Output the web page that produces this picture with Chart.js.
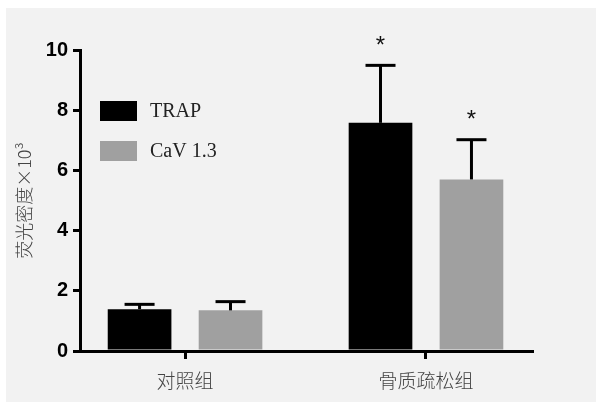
<!DOCTYPE html>
<html>
<head>
<meta charset="utf-8">
<script src="https://cdn.jsdelivr.net/npm/chart.js@4"></script>
<style>
html,body{margin:0;padding:0;background:#fff;}
#wrap{width:596px;height:402px;position:relative;}
</style>
</head>
<body>
<div id="wrap"><canvas id="c" width="596" height="402"></canvas></div>
<script>
const categories = ['对照组', '骨质疏松组'];
const seriesNames = ['TRAP', 'CaV 1.3'];
const trapValues = [1.39, 7.58];
const trapErrors = [0.16, 1.91];
const cavValues = [1.35, 5.70];
const cavErrors = [0.29, 1.32];
const trapSignif = ['', '*'];
const cavSignif = ['', '*'];
const yTicks = [0, 2, 4, 6, 8, 10];
const yTitle = '荧光密度×10³';

const panelPlugin = {
  id: 'panel',
  beforeDraw(chart) {
    const ctx = chart.ctx;
    ctx.save();
    ctx.fillStyle = '#ffffff';
    ctx.fillRect(0, 0, chart.width, chart.height);
    ctx.fillStyle = '#f2f2f2';
    ctx.fillRect(6, 8, chart.width - 6, chart.height - 8);
    ctx.restore();
  }
};

const errorPlugin = {
  id: 'errs',
  afterDatasetsDraw(chart) {
    const ctx = chart.ctx;
    const y = chart.scales.y;
    ctx.save();
    chart.data.datasets.forEach((ds, di) => {
      const meta = chart.getDatasetMeta(di);
      meta.data.forEach((bar, i) => {
        const v = ds.data[i].y;
        const e = ds.errors[i];
        const x = bar.x;
        const yTop = y.getPixelForValue(v + e);
        const yBar = y.getPixelForValue(v);
        ctx.strokeStyle = '#000';
        ctx.lineWidth = 3;
        ctx.beginPath();
        ctx.moveTo(x, yBar);
        ctx.lineTo(x, yTop);
        ctx.stroke();
        ctx.beginPath();
        ctx.moveTo(x - 15, yTop);
        ctx.lineTo(x + 15, yTop);
        ctx.stroke();
        const s = ds.signif[i];
        if (s) {
          ctx.fillStyle = '#111';
          ctx.font = '24px "Liberation Sans", Arial, sans-serif';
          ctx.textAlign = 'center';
          ctx.textBaseline = 'middle';
          ctx.fillText(s, x, yTop - 19);
        }
      });
    });
    ctx.restore();
  }
};

const legendPlugin = {
  id: 'customLegend',
  afterDraw(chart) {
    const ctx = chart.ctx;
    ctx.save();
    chart.data.datasets.forEach((ds, i) => {
      const top = 101 + i * 40;
      ctx.fillStyle = ds.backgroundColor;
      ctx.fillRect(100, top, 37, 20);
      ctx.fillStyle = '#222';
      ctx.font = '20px "Liberation Serif", "Times New Roman", serif';
      ctx.textAlign = 'left';
      ctx.textBaseline = 'middle';
      ctx.fillText(ds.label, 150, top + 11);
    });
    ctx.restore();
  }
};

const datasets = [
  { label: seriesNames[0], data: categories.map((c, i) => ({x: i, y: trapValues[i]})), errors: trapErrors, signif: trapSignif, backgroundColor: '#000000' },
  { label: seriesNames[1], data: categories.map((c, i) => ({x: i, y: cavValues[i]})), errors: cavErrors, signif: cavSignif, backgroundColor: '#a0a0a0' }
];

new Chart(document.getElementById('c'), {
  type: 'bar',
  data: { datasets },
  plugins: [panelPlugin, errorPlugin, legendPlugin],
  options: {
    responsive: false,
    animation: false,
    devicePixelRatio: 1,
    categoryPercentage: 0.755,
    barPercentage: 0.70,
    layout: { padding: { left: 6, top: 50, right: 64, bottom: 0 } },
    plugins: { legend: { display: false }, tooltip: { enabled: false } },
    scales: {
      x: {
        type: 'linear',
        offset: false,
        min: -0.436,
        max: 1.44,
        afterBuildTicks(scale) { scale.ticks = categories.map((c, i) => ({ value: i })); },
        afterFit(scale) { scale.height = 51; },
        ticks: {
          callback: (v) => categories[v] !== undefined ? categories[v] : '',
          color: '#444',
          font: { family: '"Noto Sans CJK SC", sans-serif', size: 19, weight: 300 },
          padding: 10,
          maxRotation: 0,
          autoSkip: false
        },
        grid: { offset: false, drawOnChartArea: false, drawTicks: true, tickLength: 8, color: '#000', lineWidth: 3 },
        border: { display: true, color: '#000', width: 3 }
      },
      y: {
        min: 0,
        max: 10,
        afterBuildTicks(scale) { scale.ticks = yTicks.map(v => ({ value: v })); },
        afterFit(scale) { scale.width = 74; },
        ticks: {
          color: '#000',
          font: { family: '"Liberation Sans", Arial, sans-serif', size: 20, weight: 'bold' },
          padding: 5
        },
        grid: { drawOnChartArea: false, drawTicks: true, tickLength: 7, color: '#000', lineWidth: 3 },
        border: { display: true, color: '#000', width: 3 },
        title: {
          display: true,
          text: yTitle,
          color: '#444',
          font: { family: '"Noto Sans CJK SC", sans-serif', size: 18, weight: 300 },
          padding: { top: 7, bottom: 0 }
        }
      }
    }
  }
});
</script>
</body>
</html>
